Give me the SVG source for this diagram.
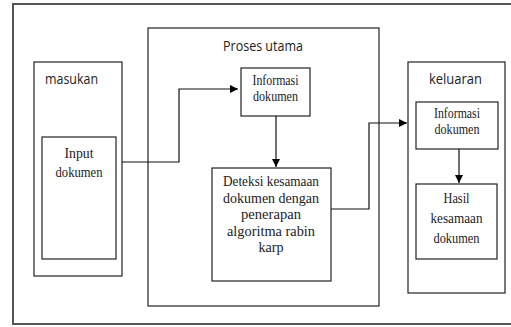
<svg xmlns="http://www.w3.org/2000/svg" width="511" height="327" viewBox="0 0 511 327">
<defs>
<marker id="ah" viewBox="0 0 10 10" refX="10" refY="5" markerWidth="8" markerHeight="8" markerUnits="userSpaceOnUse" orient="auto">
<path d="M0,0 L10,5 L0,10 z" fill="#000"/>
</marker>
<style>
.frame{fill:#fff;stroke:#555;stroke-width:2}
.box{fill:none;stroke:#222;stroke-width:1.2}
.sans{font-family:"Open Sans","Noto Sans","Liberation Sans",sans-serif;font-size:14px;fill:#222}
.serif{font-family:"Liberation Serif","Times New Roman",serif;font-size:15px;fill:#222;text-anchor:middle}
.conn{fill:none;stroke:#111;stroke-width:1.2}
</style>
</defs>
<rect x="0" y="0" width="511" height="327" fill="#fff"/>
<rect class="frame" x="13" y="4" width="510" height="320"/>

<g id="masukan">
<rect class="box" x="34" y="62" width="88" height="214"/>
<text class="sans" x="45" y="84" textLength="53" lengthAdjust="spacingAndGlyphs">masukan</text>
</g>
<g id="input-dokumen">
<rect class="box" x="42" y="137" width="74" height="122"/>
<text class="serif" x="79" y="158" textLength="29" lengthAdjust="spacingAndGlyphs">Input</text>
<text class="serif" x="79" y="177" textLength="47" lengthAdjust="spacingAndGlyphs">dokumen</text>
</g>

<g id="proses-utama">
<rect class="box" x="148" y="28" width="231" height="278"/>
<text class="sans" x="223" y="51" textLength="80" lengthAdjust="spacingAndGlyphs">Proses utama</text>
</g>
<g id="informasi-proses">
<rect class="box" x="241" y="68" width="69" height="48"/>
<text class="serif" x="275.5" y="85" textLength="46" lengthAdjust="spacingAndGlyphs">Informasi</text>
<text class="serif" x="275.5" y="101" textLength="45" lengthAdjust="spacingAndGlyphs">dokumen</text>
</g>
<g id="deteksi">
<rect class="box" x="212" y="168" width="119" height="113"/>
<text class="serif" x="271" y="186" textLength="96" lengthAdjust="spacingAndGlyphs">Deteksi kesamaan</text>
<text class="serif" x="271" y="202.5" textLength="96" lengthAdjust="spacingAndGlyphs">dokumen dengan</text>
<text class="serif" x="271" y="219" textLength="60" lengthAdjust="spacingAndGlyphs">penerapan</text>
<text class="serif" x="271" y="235.5" textLength="88" lengthAdjust="spacingAndGlyphs">algoritma rabin</text>
<text class="serif" x="271" y="252" textLength="25" lengthAdjust="spacingAndGlyphs">karp</text>
</g>

<g id="keluaran">
<rect class="box" x="408" y="62" width="97" height="231"/>
<text class="sans" x="429" y="84" textLength="53" lengthAdjust="spacingAndGlyphs">keluaran</text>
</g>
<g id="informasi-keluaran">
<rect class="box" x="416" y="102" width="82" height="47"/>
<text class="serif" x="457" y="118" textLength="46" lengthAdjust="spacingAndGlyphs">Informasi</text>
<text class="serif" x="457" y="134" textLength="45" lengthAdjust="spacingAndGlyphs">dokumen</text>
</g>
<g id="hasil">
<rect class="box" x="416" y="184" width="81" height="75"/>
<text class="serif" x="456.5" y="203" textLength="26" lengthAdjust="spacingAndGlyphs">Hasil</text>
<text class="serif" x="456.5" y="223" textLength="52" lengthAdjust="spacingAndGlyphs">kesamaan</text>
<text class="serif" x="456.5" y="243" textLength="46" lengthAdjust="spacingAndGlyphs">dokumen</text>
</g>

<g id="connectors">
<polyline class="conn" points="122,162 179,162 179,89 238,89" marker-end="url(#ah)"/>
<polyline class="conn" points="331,209 369,209 369,123 407,123" marker-end="url(#ah)"/>
<line class="conn" x1="276" y1="116" x2="276" y2="167" marker-end="url(#ah)"/>
<line class="conn" x1="459" y1="149" x2="459" y2="183" marker-end="url(#ah)"/>
</g>
</svg>
